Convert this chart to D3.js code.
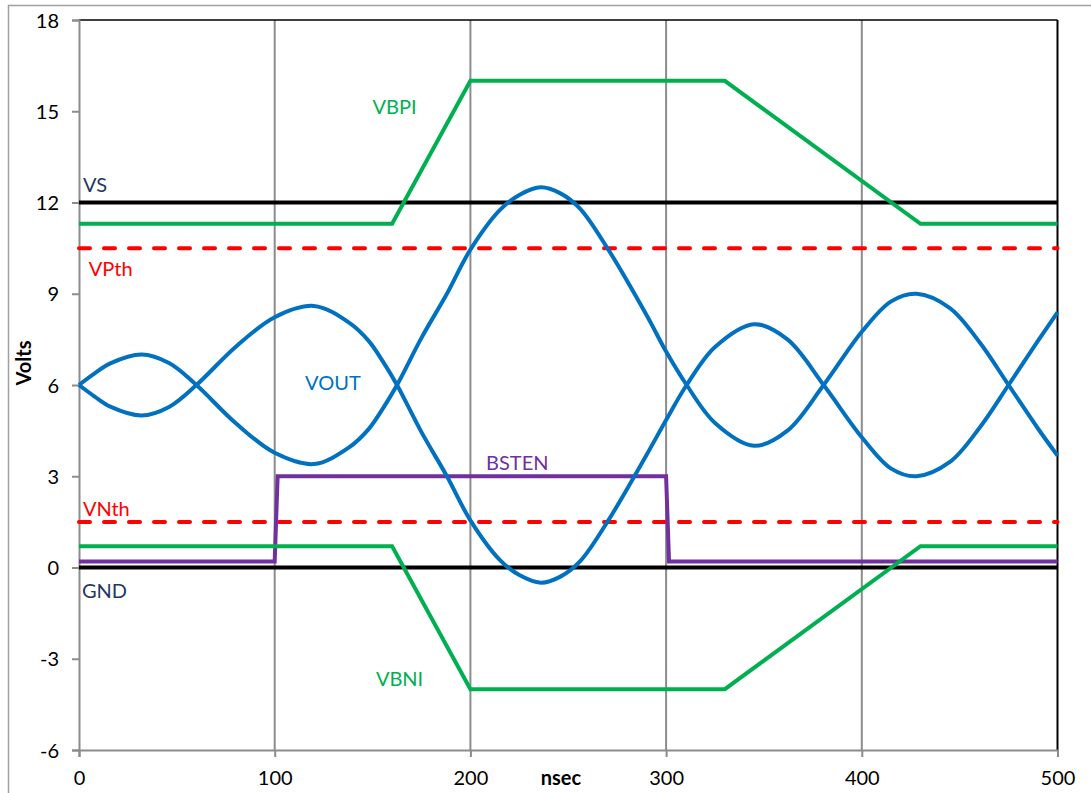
<!DOCTYPE html>
<html>
<head>
<meta charset="utf-8">
<script src="https://cdn.jsdelivr.net/npm/d3@7"></script>
<style>
  html, body { margin: 0; padding: 0; background: #fff; }
  svg { display: block; }
  text { font-family: Lato, "Open Sans", "Liberation Sans", sans-serif; }
</style>
</head>
<body>
<svg id="chart" width="1091" height="793"></svg>
<script>
// ---- data ----
const xTicks = [0, 100, 200, 300, 400, 500];
const yTicks = [-6, -3, 0, 3, 6, 9, 12, 15, 18];

const voutTime = [0, 8, 16, 32, 46, 60, 80, 100, 120, 138, 148, 155.5, 162.5, 175, 188, 200, 215, 225, 236, 246, 256, 270, 290, 300, 310.5, 325, 345, 362, 380.5, 400, 415, 428, 445, 460, 475, 490, 500];
const voutA = [6.0, 6.38, 6.71, 7.0, 6.72, 6.0, 4.75, 3.77, 3.4, 3.95, 4.55, 5.25, 6.0, 7.55, 9.0, 10.45, 11.75, 12.25, 12.5, 12.3, 11.8, 10.5, 8.3, 7.1, 6.0, 4.75, 4.0, 4.5, 6.0, 7.75, 8.75, 9.0, 8.53, 7.42, 6.0, 4.57, 3.68];
const voutB = [6.0, 5.62, 5.29, 5.0, 5.28, 6.0, 7.25, 8.23, 8.6, 8.05, 7.45, 6.75, 6.0, 4.45, 3.0, 1.55, 0.25, -0.25, -0.5, -0.3, 0.2, 1.5, 3.7, 4.85, 6.0, 7.25, 8.0, 7.5, 6.0, 4.28, 3.25, 3.0, 3.47, 4.58, 6.0, 7.45, 8.39];

const railTime = [0, 160, 200, 330, 430, 500];
const vbpiVals = [11.3, 11.3, 16, 16, 11.3, 11.3];
const vbniVals = [0.7, 0.7, -4, -4, 0.7, 0.7];

const bstenTime = [0, 100, 101.5, 300, 301.5, 500];
const bstenVals = [0.2, 0.2, 3, 3, 0.2, 0.2];

const vsLevel = 12;
const gndLevel = 0;
const vpthLevel = 10.5;
const vnthLevel = 1.5;

const labelNames = ["VS", "VPth", "VBPI", "VOUT", "BSTEN", "VNth", "GND", "VBNI"];
const labelTime  = [2, 5, 150, 115.5, 208, 2, 1.5, 151.7];
const labelValue = [12.33, 9.6, 14.92, 5.85, 3.22, 1.68, -0.99, -3.88];

// ---- layout ----
const svg = d3.select("#chart");
const x = d3.scaleLinear().domain([0, 500]).range([79, 1057.5]);
const y = d3.scaleLinear().domain([-6, 18]).range([750, 20]);

const colors = {
  navy: "#1F3864", red: "#FF0000", green: "#00B050", blue: "#0070C0", purple: "#7030A0", grid: "#8C8C8C"
};
const labelColors = [colors.navy, colors.red, colors.green, colors.blue, colors.purple, colors.red, colors.navy, colors.green];

// outer chart border
svg.append("rect").attr("x", 8.5).attr("y", 5.5).attr("width", 1200).attr("height", 900)
  .attr("fill", "none").attr("stroke", "#A0A0A0").attr("stroke-width", 1.5);

// vertical gridlines
svg.append("g").selectAll("line").data(xTicks.filter(d => d > 0 && d < 500)).join("line")
  .attr("x1", d => x(d)).attr("x2", d => x(d)).attr("y1", y(18)).attr("y2", y(-6))
  .attr("stroke", colors.grid).attr("stroke-width", 2);

// plot border top & right (black)
svg.append("line").attr("x1", x(0)).attr("x2", x(500)).attr("y1", y(18)).attr("y2", y(18))
  .attr("stroke", "#000").attr("stroke-width", 1.5);
svg.append("line").attr("x1", x(500)).attr("x2", x(500)).attr("y1", y(18)).attr("y2", y(-6))
  .attr("stroke", "#000").attr("stroke-width", 2);

// axes
const fmt = d => String(d);
const yAxis = svg.append("g").attr("transform", `translate(${x(0)},0)`)
  .call(d3.axisLeft(y).tickValues(yTicks).tickSize(7).tickPadding(13).tickFormat(fmt));
const xAxis = svg.append("g").attr("transform", `translate(0,${y(-6)})`)
  .call(d3.axisBottom(x).tickValues(xTicks).tickSize(7).tickPadding(14).tickFormat(fmt));
[yAxis, xAxis].forEach(g => {
  g.select(".domain").attr("stroke", colors.grid).attr("stroke-width", 2);
  g.selectAll(".tick line").attr("stroke", colors.grid).attr("stroke-width", 2);
  g.selectAll(".tick text").attr("fill", "#000").style("font-size", "20px")
    .style("font-family", "Lato, 'Open Sans', sans-serif");
});
yAxis.selectAll(".tick text").attr("dy", "0.36em");

// axis titles
svg.append("text").attr("transform", "translate(31,363) rotate(-90)")
  .attr("text-anchor", "middle").style("font-size", "20px").style("font-weight", "bold").text("Volts");
svg.append("text").attr("x", 561).attr("y", 785)
  .attr("text-anchor", "middle").style("font-size", "20px").style("font-weight", "bold").text("nsec");

// series
const line = d3.line().x(d => x(d[0])).y(d => y(d[1]));
const smooth = d3.line().x(d => x(d[0])).y(d => y(d[1])).curve(d3.curveCatmullRom.alpha(0.5));
const zip = (a, b) => a.map((t, i) => [t, b[i]]);

function hLine(level, color, dashed) {
  const p = svg.append("path").datum([[0, level], [500, level]]).attr("d", line)
    .attr("fill", "none").attr("stroke", color).attr("stroke-width", 4);
  if (dashed) p.attr("stroke-dasharray", "11,14").attr("stroke-linecap", "round");
  return p;
}
hLine(vsLevel, "#000", false);
hLine(gndLevel, "#000", false);
hLine(vpthLevel, colors.red, true);
hLine(vnthLevel, colors.red, true);

svg.append("path").datum(zip(bstenTime, bstenVals)).attr("d", line)
  .attr("fill", "none").attr("stroke", colors.purple).attr("stroke-width", 4);

svg.append("path").datum(zip(railTime, vbpiVals)).attr("d", line)
  .attr("fill", "none").attr("stroke", colors.green).attr("stroke-width", 4);
svg.append("path").datum(zip(railTime, vbniVals)).attr("d", line)
  .attr("fill", "none").attr("stroke", colors.green).attr("stroke-width", 4);

svg.append("path").datum(zip(voutTime, voutA)).attr("d", smooth)
  .attr("fill", "none").attr("stroke", colors.blue).attr("stroke-width", 4);
svg.append("path").datum(zip(voutTime, voutB)).attr("d", smooth)
  .attr("fill", "none").attr("stroke", colors.blue).attr("stroke-width", 4);

// series labels
svg.append("g").selectAll("text").data(labelNames).join("text")
  .attr("x", (d, i) => x(labelTime[i])).attr("y", (d, i) => y(labelValue[i]))
  .attr("fill", (d, i) => labelColors[i]).style("font-size", "20px").text(d => d);
</script>
</body>
</html>
